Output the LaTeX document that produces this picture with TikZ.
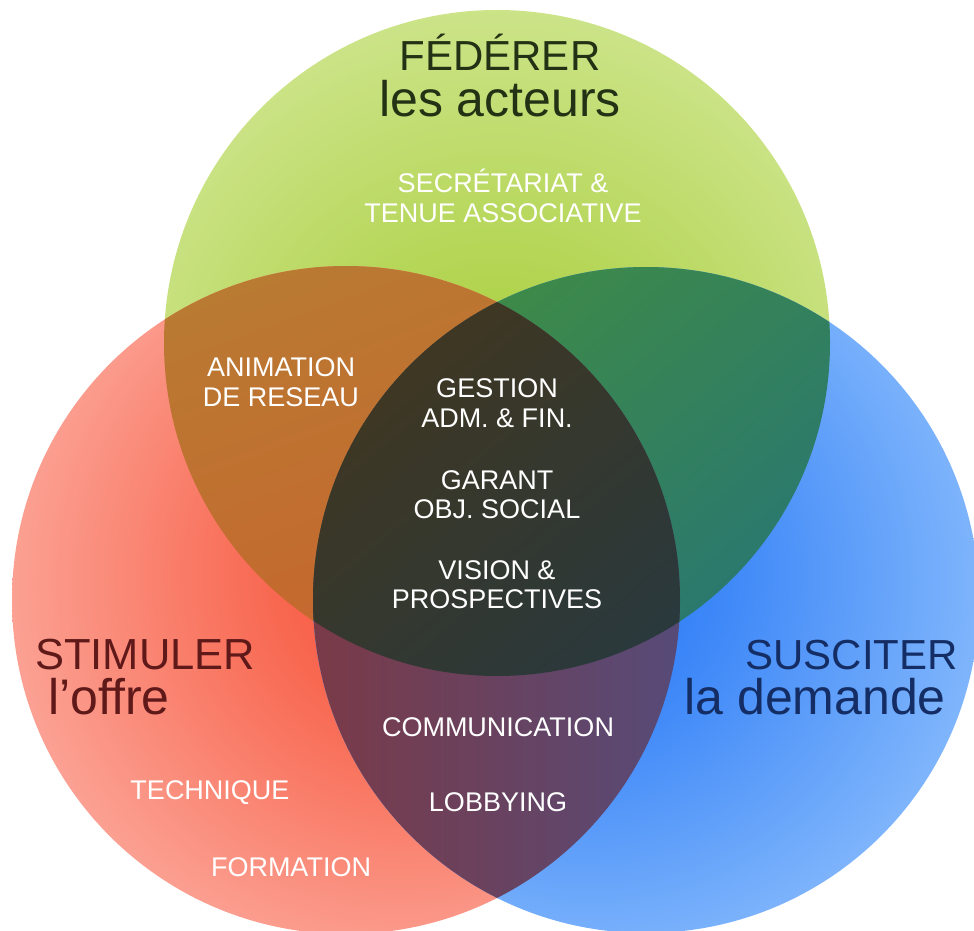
\documentclass[tikz,border=0pt]{standalone}
\usepackage{fontspec}
\setmainfont{Liberation Sans}
\definecolor{gC}{RGB}{155,200,40}
\definecolor{gM}{RGB}{178,212,80}
\definecolor{gE}{RGB}{208,230,145}
\definecolor{rC}{RGB}{246,70,48}
\definecolor{rM}{RGB}{248,105,82}
\definecolor{rE}{RGB}{252,172,160}
\definecolor{bC}{RGB}{30,115,245}
\definecolor{bM}{RGB}{62,136,248}
\definecolor{bE}{RGB}{140,190,252}
\definecolor{brA}{RGB}{185,122,50}
\definecolor{brB}{RGB}{208,88,44}
\definecolor{tlA}{RGB}{62,138,72}
\definecolor{tlB}{RGB}{28,108,138}
\definecolor{puA}{RGB}{122,58,72}
\definecolor{puB}{RGB}{58,88,158}
\definecolor{ceA}{RGB}{62,55,35}
\definecolor{ceB}{RGB}{25,58,80}
\definecolor{gT}{RGB}{35,50,20}
\definecolor{rT}{RGB}{95,25,25}
\definecolor{bT}{RGB}{20,45,100}
\pgfdeclareradialshading{gsh}{\pgfpoint{0bp}{-10bp}}{color(0bp)=(gC); color(12bp)=(gM); color(32bp)=(gE); color(50bp)=(gE)}
\pgfdeclareradialshading{rsh}{\pgfpoint{8bp}{3bp}}{color(0bp)=(rC); color(12bp)=(rM); color(32bp)=(rE); color(50bp)=(rE)}
\pgfdeclareradialshading{bsh}{\pgfpoint{-8bp}{3bp}}{color(0bp)=(bC); color(12bp)=(bM); color(32bp)=(bE); color(50bp)=(bE)}
\tikzset{
  lab/.style={text=white, font=\fontsize{27}{27}\selectfont, anchor=base, inner sep=0pt, text height=19pt, text depth=0pt},
  ttl/.style={font=\fontsize{42}{42}\selectfont, inner sep=0pt, text height=30pt, text depth=0pt},
  sub/.style={font=\fontsize{50}{50}\selectfont, inner sep=0pt, text height=36pt, text depth=0pt},
}
\begin{document}
\begin{tikzpicture}[x=1pt,y=-1pt]
\useasboundingbox (0,0) rectangle (974,931);
\fill[white] (0,0) rectangle (974,931);
\coordinate (G) at (497,343);
\coordinate (R) at (346,600);
\coordinate (B) at (646,600);
% base circles
\shade[shading=gsh] (G) circle[radius=333pt];
\shade[shading=rsh] (R) circle[radius=334pt];
\shade[shading=bsh] (B) circle[radius=333pt];
% green & red
\begin{scope}
  \clip (G) circle[radius=333pt];
  \shade[top color=brA, bottom color=brB, shading angle=20] (R) circle[radius=334pt];
\end{scope}
% green & blue
\begin{scope}
  \clip (G) circle[radius=333pt];
  \shade[top color=tlA, bottom color=tlB, shading angle=40] (B) circle[radius=333pt];
\end{scope}
% red & blue
\begin{scope}
  \clip (R) circle[radius=334pt];
  \shade[left color=puA, right color=puB] (B) circle[radius=333pt];
\end{scope}
% all three
\begin{scope}
  \clip (G) circle[radius=333pt];
  \clip (R) circle[radius=334pt];
  \shade[top color=ceA, bottom color=ceB, shading angle=40] (B) circle[radius=333pt];
\end{scope}
% titles
\node[ttl, text=gT, anchor=base] (fed) at (500,71) {FÉDÉRER};
\node[sub, text=gT, anchor=base] (fed2) at (500,117) {les acteurs};
\node[ttl, text=rT, anchor=base west, font=\fontsize{43.5}{43.5}\selectfont] (sti) at (35,669) {STIMULER};
\node[sub, text=rT, anchor=base west] (sti2) at (48,714) {l’offre};
\node[ttl, text=bT, anchor=base east] (sus) at (958,669) {SUSCITER};
\node[sub, text=bT, anchor=base east] (sus2) at (946,714) {la demande};
% labels
\node[lab] (sec1) at (503,192) {SECRÉTARIAT \&};
\node[lab] (sec2) at (503,222) {TENUE ASSOCIATIVE};
\node[lab] (ani1) at (281,376) {ANIMATION};
\node[lab] (ani2) at (281,406) {DE RESEAU};
\node[lab] (ges1) at (497,397) {GESTION};
\node[lab] (ges2) at (497,427) {ADM. \& FIN.};
\node[lab] (gar1) at (497,489) {GARANT};
\node[lab] (gar2) at (497,518) {OBJ. SOCIAL};
\node[lab] (vis1) at (497,579) {VISION \&};
\node[lab] (vis2) at (497,608) {PROSPECTIVES};
\node[lab] (com) at (498,736) {COMMUNICATION};
\node[lab] (lob) at (498,811) {LOBBYING};
\node[lab] (tec) at (210,799) {TECHNIQUE};
\node[lab] (for) at (291,876) {FORMATION};
\end{tikzpicture}
\end{document}
